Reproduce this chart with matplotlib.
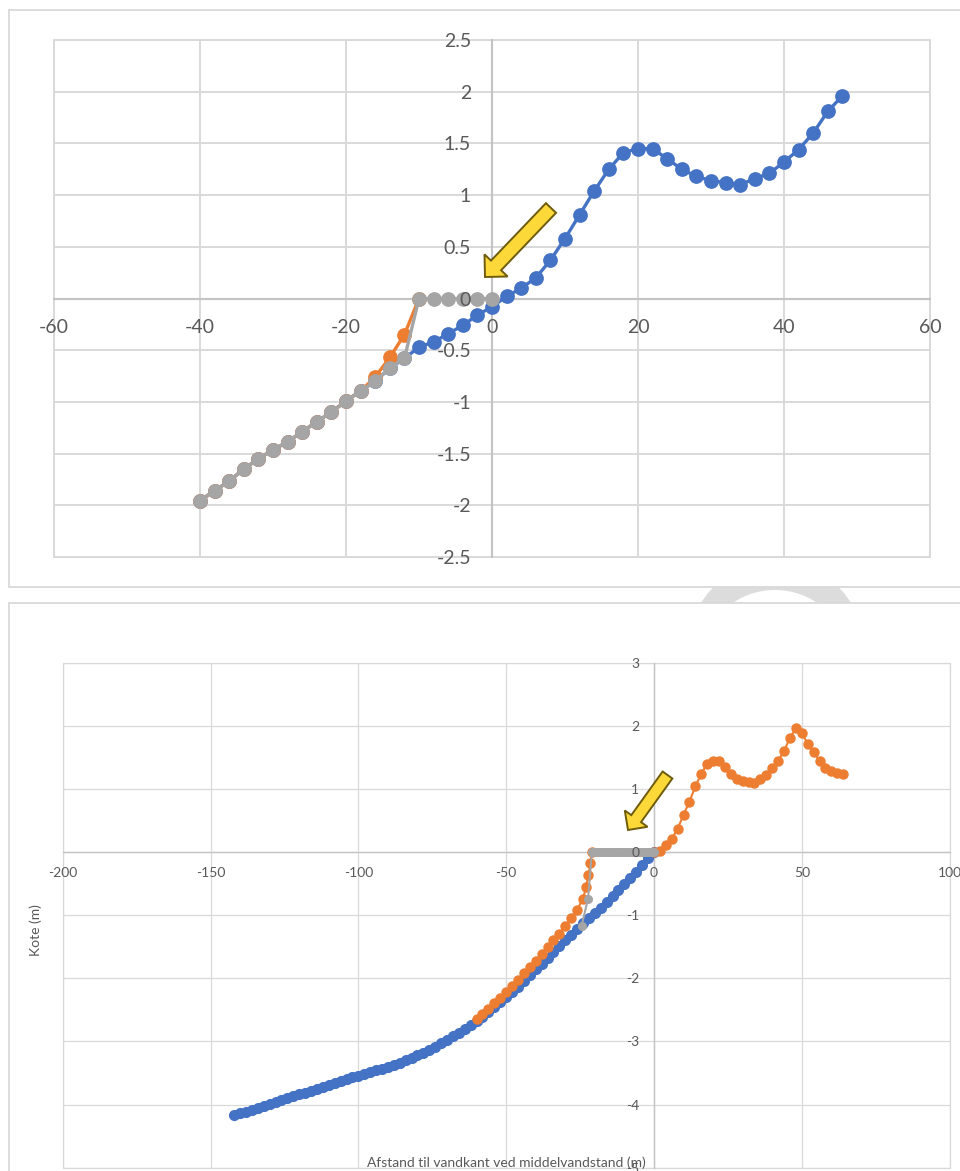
import numpy as np
import matplotlib
matplotlib.use("Agg")
import matplotlib.pyplot as plt
from matplotlib.patches import Rectangle, Ellipse, Polygon
from matplotlib.ticker import MultipleLocator, FuncFormatter

plt.rcParams['font.family'] = ['Lato', 'DejaVu Sans']
plt.rcParams['axes.unicode_minus'] = False

W, H = 960, 1171

# ---- top chart (x -60..60) ----
top_blue_x = list(range(-40, 50, 2))
top_blue_y = [-1.955, -1.86, -1.765, -1.65, -1.55, -1.465, -1.385, -1.29, -1.19, -1.10,
              -0.99, -0.895, -0.80, -0.675, -0.58,
              -0.47, -0.42, -0.34, -0.26, -0.16, -0.08, 0.02, 0.10, 0.20, 0.37,
              0.58, 0.81, 1.04, 1.25, 1.41, 1.45, 1.45, 1.35, 1.25, 1.18,
              1.14, 1.12, 1.10, 1.16, 1.21, 1.32, 1.44, 1.60, 1.81, 1.96]

top_orange_x = list(range(-40, -8, 2))
top_orange_y = [-1.955, -1.86, -1.765, -1.65, -1.55, -1.465, -1.385, -1.29, -1.19, -1.10,
                -0.99, -0.895, -0.76, -0.57, -0.35, 0.0]

top_gray_x = list(range(-40, 2, 2))
top_gray_y = [-1.955, -1.86, -1.765, -1.65, -1.55, -1.465, -1.385, -1.29, -1.19, -1.10,
              -0.99, -0.895, -0.80, -0.675, -0.58, 0, 0, 0, 0, 0, 0]

# ---- bottom chart (x -200..100) ----
bot_blue_x = list(range(-142, 2, 2))
bot_blue_y = [-4.17, -4.14, -4.11, -4.08, -4.05, -4.02, -3.99, -3.96, -3.93, -3.90,
              -3.87, -3.84, -3.81, -3.78, -3.75, -3.72, -3.69, -3.66, -3.63, -3.60,
              -3.57, -3.54, -3.51, -3.48, -3.46, -3.43, -3.40, -3.37, -3.34, -3.30,
              -3.26, -3.22, -3.18, -3.13, -3.08, -3.03, -2.98, -2.92, -2.86, -2.80,
              -2.74, -2.68, -2.61, -2.53, -2.46, -2.38, -2.30, -2.21, -2.13, -2.04,
              -1.95, -1.86, -1.77, -1.68, -1.59, -1.49, -1.40, -1.31, -1.22, -1.13,
              -1.05, -0.97, -0.88, -0.79, -0.70, -0.60, -0.51, -0.41, -0.31, -0.21,
              -0.10, 0.0]

bot_orange_x = [-60, -58, -56, -54, -52, -50, -48, -46, -44, -42, -40, -38, -36, -34,
                -32, -30, -28, -26, -24, -23, -22.2, -21.5, -21] + list(range(0, 66, 2))
bot_orange_y = [-2.65, -2.56, -2.48, -2.39, -2.31, -2.22, -2.12, -2.02, -1.92, -1.82,
                -1.72, -1.62, -1.51, -1.40, -1.29, -1.17, -1.04, -0.91, -0.74, -0.56,
                -0.37, -0.18, 0.0,
                0.0, 0.02, 0.11, 0.21, 0.37, 0.59, 0.80, 1.04, 1.24, 1.40, 1.44,
                1.45, 1.35, 1.24, 1.16, 1.13, 1.11, 1.10, 1.15, 1.22, 1.33, 1.45,
                1.60, 1.81, 1.96, 1.88, 1.72, 1.58, 1.45, 1.33, 1.28, 1.26, 1.23]

bot_gray_x = [-24.5, -22.3, -21] + list(range(-20, 1, 1))
bot_gray_y = [-1.17, -0.74, 0.0] + [0.0] * 21

BLUE, ORANGE, GRAY = '#4472C4', '#ED7D31', '#A5A5A5'
GRID, AXIS, TXT = '#d9d9d9', '#c4c4c4', '#595959'


def fpos(x, y):
    return (x / W, 1 - y / H)


def style(ax, xlim, ylim, xstep, ystep, fs, pad, gw):
    ax.set_xlim(xlim)
    ax.set_ylim(ylim)
    ax.xaxis.set_major_locator(MultipleLocator(xstep))
    ax.yaxis.set_major_locator(MultipleLocator(ystep))
    fmt = FuncFormatter(lambda v, p: f"{round(v, 6) + 0:g}")
    ax.xaxis.set_major_formatter(fmt)
    ax.yaxis.set_major_formatter(fmt)
    ax.spines['left'].set_position(('data', 0))
    ax.spines['bottom'].set_position(('data', 0))
    for s in ('left', 'bottom'):
        ax.spines[s].set_color(AXIS)
        ax.spines[s].set_linewidth(gw * 1.1)
    for s in ('top', 'right'):
        ax.spines[s].set_visible(False)
    # gridlines drawn by hand so the tick labels can sit on top of the series
    for v in np.arange(xlim[0], xlim[1] + xstep / 2, xstep):
        ax.axvline(v, color=GRID, lw=gw, zorder=0.2)
    for v in np.arange(ylim[0], ylim[1] + ystep / 2, ystep):
        ax.axhline(v, color=GRID, lw=gw, zorder=0.2)
    ax.tick_params(length=0, labelsize=fs, labelcolor=TXT, pad=pad)
    ax.xaxis.set_zorder(4)
    ax.yaxis.set_zorder(4)
    ax.add_patch(Rectangle((0, 0), 1, 1, transform=ax.transAxes, fill=False,
                           ec=GRID, lw=gw, clip_on=False, zorder=0.5))


def block_arrow(tip, tail, shaft_hw, head_hw, head_len):
    tip = np.array(tip, float)
    tail = np.array(tail, float)
    u = (tip - tail) / np.hypot(*(tip - tail))
    n = np.array([-u[1], u[0]])
    base = tip - u * head_len
    pts = [tail + n * shaft_hw, base + n * shaft_hw, base + n * head_hw, tip,
           base - n * head_hw, base - n * shaft_hw, tail - n * shaft_hw]
    return Polygon([fpos(*p) for p in pts], closed=True, transform=fig.transFigure,
                   fc='#FCD838', ec='#6e5c0c', lw=1.4, zorder=5)


fig = plt.figure(figsize=(W / 100, H / 100), dpi=100)

# watermark peeking out between the two charts
fig.add_artist(Ellipse(fpos(776, 639), 170 / W, 153 / H, transform=fig.transFigure,
                       fc='#dcdcdc', ec='none', zorder=-3))
fig.add_artist(Ellipse(fpos(775, 650), 136 / W, 120 / H, transform=fig.transFigure,
                       fc='white', ec='none', zorder=-3))

# chart area frames
fig.add_artist(Rectangle(fpos(9, 587), 980 / W, 577 / H, transform=fig.transFigure,
                         fc='white', ec=GRID, lw=1.3, zorder=-2))
fig.add_artist(Rectangle(fpos(9, 1200), 980 / W, 597 / H, transform=fig.transFigure,
                         fc='white', ec=GRID, lw=1.3, zorder=-2))

# top chart
ax1 = fig.add_axes([54 / W, 1 - 557 / H, 876 / W, 517 / H])
ax1.patch.set_alpha(0)
style(ax1, (-60, 60), (-2.5, 2.5), 20, 0.5, 14, 15, 1.4)
ax1.plot(top_blue_x, top_blue_y, color=BLUE, lw=2.4, marker='o', ms=9.6, zorder=3)
ax1.plot(top_orange_x, top_orange_y, color=ORANGE, lw=2.4, marker='o', ms=9.6, zorder=3)
ax1.plot(top_gray_x, top_gray_y, color=GRAY, lw=2.4, marker='o', ms=9.6, zorder=3)

# bottom chart
ax2 = fig.add_axes([62.7 / W, 1 - 1167.7 / H, 886.9 / W, 505 / H])
ax2.patch.set_alpha(0)
style(ax2, (-200, 100), (-5, 3), 50, 1, 10, 10.5, 0.9)
ax2.plot(bot_blue_x, bot_blue_y, color=BLUE, lw=1.5, marker='o', ms=7, zorder=3)
ax2.plot(bot_orange_x, bot_orange_y, color=ORANGE, lw=1.5, marker='o', ms=6.5, zorder=3)
ax2.plot(bot_gray_x, bot_gray_y, color=GRAY, lw=1.5, marker='o', ms=5.5, zorder=3)

fig.text(*fpos(506, 1163), 'Afstand til vandkant ved middelvandstand (m)',
         ha='center', va='center', fontsize=10, color=TXT)
fig.text(*fpos(36, 930), 'Kote (m)', rotation=90, ha='center', va='center',
         fontsize=10, color=TXT)

# arrows
fig.add_artist(block_arrow((485, 277), (551, 208), 7, 16, 16))
fig.add_artist(block_arrow((628, 830), (667.5, 775), 6, 14, 14))

fig.savefig('out.png', dpi=100)
